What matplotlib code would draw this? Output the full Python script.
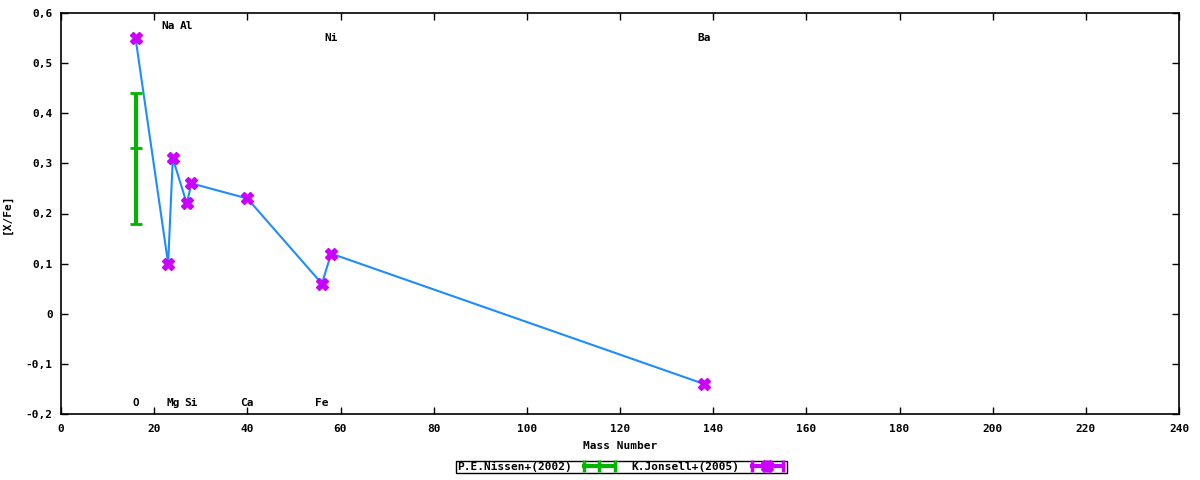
import matplotlib
matplotlib.use("Agg")
import matplotlib.pyplot as plt
from matplotlib.lines import Line2D
from matplotlib.legend_handler import HandlerTuple, HandlerLine2D
from matplotlib.ticker import FuncFormatter

# [X/Fe] against mass number

# Nissen et al. (2002): one O point with asymmetric error bar
nissen_mass = [16]
nissen_xfe = [0.33]
nissen_err_lo = [0.15]
nissen_err_hi = [0.11]

# Jonsell et al. (2005)
jonsell_elem = ["O", "Na", "Mg", "Al", "Si", "Ca", "Fe", "Ni", "Ba"]
jonsell_mass = [16, 23, 24, 27, 28, 40, 56, 58, 138]
jonsell_xfe = [0.55, 0.10, 0.31, 0.22, 0.26, 0.23, 0.06, 0.12, -0.14]

# element labels along the top / bottom of the frame
label_elem = ["Na", "Al", "Ni", "Ba", "O", "Mg", "Si", "Ca", "Fe"]
label_mass = [23, 27, 58, 138, 16, 24, 28, 40, 56]
label_y = [0.574, 0.574, 0.55, 0.55, -0.178, -0.178, -0.178, -0.178, -0.178]

GREEN = "#00b400"
PURPLE = "#cc00ff"
BLUE = "#1e8cff"
FONT = dict(family="DejaVu Sans Mono", weight="bold", size=8)

fig = plt.figure(figsize=(12, 4.8), dpi=100)
ax = fig.add_axes([61 / 1200, 1 - 414 / 480, 1118 / 1200, 401 / 480])

ax.errorbar(nissen_mass, nissen_xfe, yerr=[nissen_err_lo, nissen_err_hi],
            fmt="_", color=GREEN, ecolor=GREEN, elinewidth=3, capsize=4,
            capthick=2, markersize=9, markeredgewidth=2, zorder=3)

ax.plot(jonsell_mass, jonsell_xfe, color=BLUE, lw=1.5, zorder=2)
ax.plot(jonsell_mass, jonsell_xfe, ls="none", marker="X", markersize=9,
        color=PURPLE, markeredgecolor=PURPLE, zorder=4)

for name, m, y in zip(label_elem, label_mass, label_y):
    ax.text(m, y, name, ha="center", va="center", **FONT)

ax.set_xlim(0, 240)
ax.set_ylim(-0.2, 0.6)
ax.set_xticks(range(0, 241, 20))
ax.set_yticks([-0.2, -0.1, 0, 0.1, 0.2, 0.3, 0.4, 0.5, 0.6])
ax.yaxis.set_major_formatter(FuncFormatter(
    lambda v, p: "0" if abs(v) < 1e-9 else f"{v:.1f}".replace(".", ",")))
ax.tick_params(direction="in", length=5, width=1, top=True, right=True,
               labelsize=8)
ax.tick_params(axis="x", pad=7)
ax.tick_params(axis="y", pad=6)
for lab in ax.get_xticklabels() + ax.get_yticklabels():
    lab.set_fontfamily("DejaVu Sans Mono")
    lab.set_fontweight("bold")
for s in ax.spines.values():
    s.set_linewidth(1.2)

ax.set_xlabel("Mass Number", labelpad=5, **FONT)
ax.set_ylabel("[X/Fe]", **FONT)
ax.yaxis.set_label_coords(-0.044, 0.5)

# gnuplot-style legend samples: text first, then the error-bar sample
h_nissen = Line2D([0], [0], color=GREEN, lw=3, marker="|", markersize=8,
                  markeredgewidth=2.5)
h_j_bar = Line2D([0], [0], color=PURPLE, lw=3, marker="|", markersize=8,
                 markeredgewidth=2.5)
h_j_mk = Line2D([0], [0], color=PURPLE, lw=0, marker="X", markersize=9)
leg = fig.legend([h_nissen, (h_j_bar, h_j_mk)],
                 ["P.E.Nissen+(2002)", "K.Jonsell+(2005)"],
                 handler_map={tuple: HandlerTuple(ndivide=1),
                              h_j_mk: HandlerLine2D(numpoints=1)},
                 loc="center", bbox_to_anchor=(0.518, 0.027), ncol=2,
                 markerfirst=False, numpoints=3, fancybox=False,
                 framealpha=1, edgecolor="black", borderpad=0.1,
                 handlelength=3.4, columnspacing=1.2, handletextpad=0.8,
                 borderaxespad=0,
                 prop=dict(family="DejaVu Sans Mono", weight="bold", size=8))
leg.get_frame().set_linewidth(1)

fig.savefig("out.png", dpi=100)
